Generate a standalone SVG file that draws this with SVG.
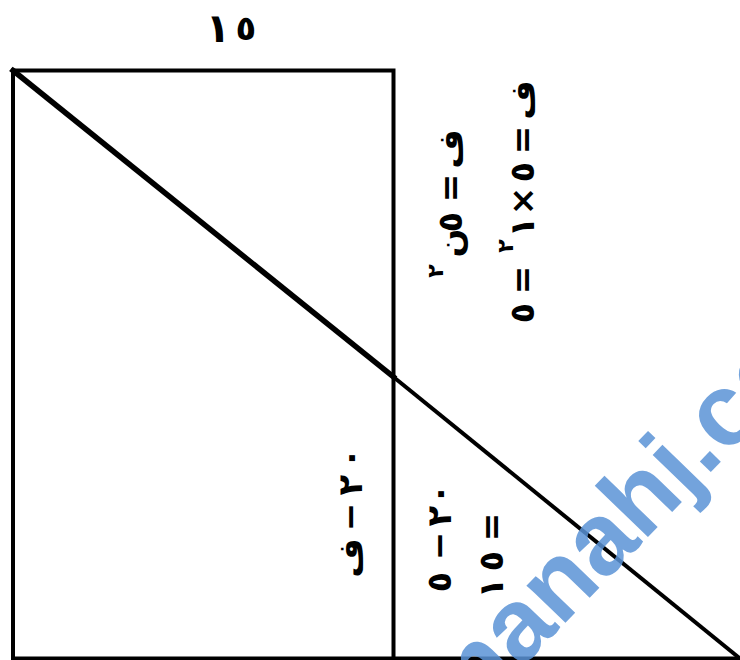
<svg xmlns="http://www.w3.org/2000/svg" width="740" height="660" viewBox="0 0 740 660">
<style>
.ln{stroke:#000;fill:none;stroke-linecap:square}
.ar{font-family:"DejaVu Sans",sans-serif;font-size:34px;font-weight:bold;fill:#000;text-anchor:middle}
.sup{font-size:22px}
.big{font-size:40px}
.wm{font-family:"Liberation Sans",Arial,sans-serif;font-weight:bold;font-size:102px;fill:#5b93d6;fill-opacity:0.85}
</style>
<rect width="740" height="660" fill="#fff"/>
<g id="figure">
<path class="ln" stroke-width="4" d="M13,658.5 V70.5 H393.5 V658.5"/>
<path class="ln" stroke-width="4" d="M13,658.5 H740"/>
<path class="ln" stroke-width="5.5" d="M13,70.5 L393.5,377"/>
<path class="ln" stroke-width="4" d="M393.5,377 L740,658.5"/>
</g>
<g id="labels">
<g id="label-top"><text class="ar big" x="218" y="42">١</text><text class="ar" x="246" y="40">٥</text></g>
<g id="label-f-eq-5n2">
<text class="ar" transform="translate(462,149) rotate(-90)">ف</text>
<text class="ar" transform="translate(462,188) rotate(-90)">=</text>
<text class="ar" transform="translate(462,222) rotate(-90)">٥</text>
<text class="ar" transform="translate(462,243) rotate(-90)">ن</text>
<text class="ar sup" transform="translate(443,271) rotate(-90)">٢</text>
</g>
<g id="label-f-eq-5x1-2">
<text class="ar" transform="translate(534,100) rotate(-90)">ف</text>
<text class="ar" transform="translate(534,140) rotate(-90)">=</text>
<text class="ar" transform="translate(534,172) rotate(-90)">٥</text>
<text class="ar" transform="translate(534,201) rotate(-90)">×</text>
<text class="ar" transform="translate(534,227) rotate(-90)">١</text>
<text class="ar sup" transform="translate(513,246) rotate(-90)">٢</text>
<text class="ar" transform="translate(534,280) rotate(-90)">=</text>
<text class="ar" transform="translate(534,313) rotate(-90)">٥</text>
</g>
<g id="label-20-f">
<text class="ar" transform="translate(362,458) rotate(-90)">٠</text>
<text class="ar" transform="translate(362,485) rotate(-90)">٢</text>
<text class="ar" transform="translate(362,517) rotate(-90)">−</text>
<text class="ar" transform="translate(362,558) rotate(-90)">ف</text>
</g>
<g id="label-20-5">
<text class="ar" transform="translate(451,494) rotate(-90)">٠</text>
<text class="ar" transform="translate(451,516) rotate(-90)">٢</text>
<text class="ar" transform="translate(451,546) rotate(-90)">−</text>
<text class="ar" transform="translate(451,582) rotate(-90)">٥</text>
</g>
<g id="label-eq-15">
<text class="ar" transform="translate(503,527) rotate(-90)">=</text>
<text class="ar" transform="translate(503,561) rotate(-90)">٥</text>
<text class="ar" transform="translate(503,588) rotate(-90)">١</text>
</g>
</g>
<g id="watermark">
<text class="wm" transform="translate(458,734) rotate(-46)">manahj.com</text>
</g>
</svg>
